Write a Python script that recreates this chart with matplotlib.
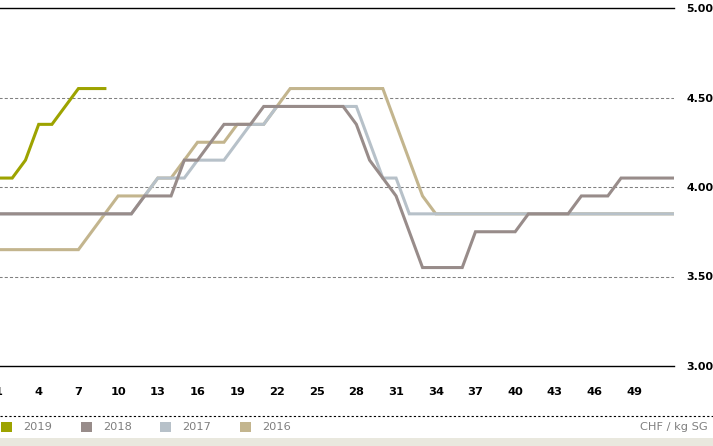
#import modules
import numpy as np
import matplotlib.pyplot as plt
from matplotlib.patches import Rectangle
from matplotlib.lines import Line2D

#weekly prices CHF / kg SG
years = ["2019", "2018", "2017", "2016"]
colors = ["#9DA300", "#988C8A", "#B7C1C9", "#C3B58E"]

p2019 = [4.05, 4.05, 4.15, 4.35, 4.35, 4.45, 4.55, 4.55, 4.55]

p2018 = ([3.85]*11 + [3.95]*3 + [4.15]*2 + [4.25] + [4.35]*3 + [4.45]*7
         + [4.35, 4.15, 4.05, 3.95, 3.75] + [3.55]*4 + [3.75]*4 + [3.85]*4
         + [3.95]*3 + [4.05]*5)

p2017 = ([3.85]*11 + [3.95] + [4.05]*3 + [4.15]*3 + [4.25] + [4.35]*2
         + [4.45]*7 + [4.25] + [4.05]*2 + [3.85]*21)

p2016 = ([3.65]*7 + [3.75, 3.85] + [3.95]*3 + [4.05]*2 + [4.15] + [4.25]*3
         + [4.35]*3 + [4.45] + [4.55]*8 + [4.35, 4.15, 3.95] + [3.85]*19)

series = {"2019": p2019, "2018": p2018, "2017": p2017, "2016": p2016}

xticks = list(range(1, 50, 3))
yticks = [3.00, 3.50, 4.00, 4.50, 5.00]
unit_label = "CHF / kg SG"

W, H = 713, 446
fig = plt.figure(figsize=(W/100, H/100), dpi=100)
ax = fig.add_axes([-1/W, 80/H, 675/W, 358/H])

#draw oldest first so newer years sit on top
for year, col in zip(years[::-1], colors[::-1]):
  vals = series[year]
  ax.plot(np.arange(1, len(vals)+1), vals, color=col, lw=2.2, solid_joinstyle="miter", zorder=3)

#dotted gridlines
for y in yticks[1:-1]:
  ax.axhline(y, color="#808080", lw=0.75, ls=(0, (3, 2)), zorder=1)

ax.set_xlim(1, 52)
ax.set_ylim(3, 5)
ax.spines["left"].set_visible(False)
ax.spines["right"].set_visible(False)
ax.spines["top"].set_linewidth(1.0)
ax.spines["bottom"].set_linewidth(1.0)

ax.set_xticks(xticks)
ax.set_xticklabels([str(t) for t in xticks], fontweight="bold", fontsize=8.2)
ax.tick_params(axis="x", length=0, pad=15)
ax.yaxis.tick_right()
ax.set_yticks(yticks)
ax.set_yticklabels(["%.2f" % t for t in yticks], fontweight="bold", fontsize=7.9)
ax.tick_params(axis="y", length=0, pad=8.8)

#legend strip at the bottom
fig.add_artist(Line2D([0, 1], [1-415.5/H]*2, color="black", lw=0.8, ls=(0, (2, 2))))
for i, (year, col) in enumerate(zip(years, colors)):
  x0 = 1 + i*79.7
  fig.add_artist(Rectangle((x0/W, 1-432/H), 11/W, 10/H, color=col, lw=0))
  fig.text((x0+22)/W, 1-427/H, year, color="#7F7F7F", fontsize=8.2, va="center", ha="left")
fig.text(708/W, 1-427/H, unit_label, color="#7F7F7F", fontsize=8.2, va="center", ha="right")
fig.add_artist(Rectangle((0, 0), 1, 8/H, color="#E9E8DE", lw=0))

fig.savefig("out.png", dpi=100)
